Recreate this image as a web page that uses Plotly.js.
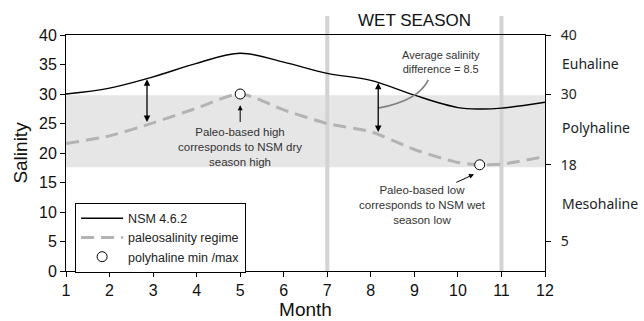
<!DOCTYPE html>
<html>
<head>
<meta charset="utf-8">
<script src="https://cdn.plot.ly/plotly-3.0.1.min.js"></script>
<style>html,body{margin:0;padding:0;background:#fff;}#chart{width:644px;height:321px;}</style>
</head>
<body>
<div id="chart"></div>
<script>
// ---- data ----
var nsmMonths   = [1, 2, 3, 4, 5, 6, 7, 8, 9, 10, 10.5, 11, 12];
var nsmValues   = [30.0, 31.0, 32.9, 35.2, 36.9, 35.4, 33.5, 32.3, 29.8, 27.7, 27.45, 27.6, 28.6];
var paleoMonths = [1, 2, 3, 4, 5, 6, 7, 8, 9, 10, 10.5, 11, 12];
var paleoValues = [21.6, 22.9, 25.1, 27.6, 30.0, 27.3, 25.0, 23.6, 20.6, 18.4, 18.0, 18.1, 19.4];
var extremeMonths = [5, 10.5];
var extremeValues = [30, 18];
var regimeBand = [17.6, 29.8];
var wetSeason = [7, 11];
var xTicks = [1, 2, 3, 4, 5, 6, 7, 8, 9, 10, 11, 12];
var rightTicks = [5, 18, 30, 40];
var zoneNames = ['Euhaline', 'Polyhaline', 'Mesohaline'];
var zoneCenters = [35.2, 24.4, 11.5];
var diffMonths = [2.86, 8.17];
var diffTops = [32.5, 31.9];
var diffBottoms = [25.0, 23.3];

var FONT = 'Liberation Sans, Arial, sans-serif';

var traces = [
  {x: nsmMonths, y: nsmValues, mode: 'lines', name: 'NSM 4.6.2',
   line: {color: '#000', width: 1.4, shape: 'spline', smoothing: 1}, hoverinfo: 'skip'},
  {x: paleoMonths, y: paleoValues, mode: 'lines', name: 'paleosalinity regime',
   line: {color: '#b3b3b3', width: 3, dash: '13px,7px', shape: 'spline', smoothing: 0.7}, hoverinfo: 'skip'},
  {x: extremeMonths, y: extremeValues, mode: 'markers', name: 'polyhaline min /max',
   marker: {symbol: 'circle', size: 10, color: '#fff', line: {color: '#000', width: 1}}, hoverinfo: 'skip'},
  {x: [null], y: [null], yaxis: 'y2', showlegend: false, hoverinfo: 'skip', mode: 'lines'}
];

var shapes = [
  {type: 'rect', xref: 'paper', yref: 'y', x0: 0, x1: 1, y0: regimeBand[0], y1: regimeBand[1],
   fillcolor: '#e6e6e6', line: {width: 0}, layer: 'below'}
];
wetSeason.forEach(function (m) {
  shapes.push({type: 'line', xref: 'x', yref: 'paper', x0: m, x1: m, y0: 0, y1: 1.08,
    line: {color: '#d3d3d3', width: 4}, layer: 'below'});
});
shapes.push({type: 'path', xref: 'x', yref: 'y',
  path: 'M ' + diffMonths[1] + ',27.6 Q 9.1,28.9 9.32,32.4',
  line: {color: '#808080', width: 1.6}});

var annotations = [];
diffMonths.forEach(function (m, i) {
  annotations.push({x: m, y: diffTops[i], ax: m, ay: diffBottoms[i], axref: 'x', ayref: 'y',
    xref: 'x', yref: 'y', text: '', showarrow: true, arrowhead: 2, arrowside: 'end+start',
    arrowsize: 1, arrowwidth: 1.3, arrowcolor: '#000', standoff: 0, startstandoff: 0});
});
annotations.push({x: 5, y: 28.1, ax: 5, ay: 25.0, axref: 'x', ayref: 'y', xref: 'x', yref: 'y',
  text: '', showarrow: true, arrowhead: 2, arrowsize: 1, arrowwidth: 1, arrowcolor: '#000', standoff: 0});
annotations.push({x: 10.37, y: 16.4, ax: 9.93, ay: 14.9, axref: 'x', ayref: 'y', xref: 'x', yref: 'y',
  text: '', showarrow: true, arrowhead: 2, arrowsize: 1, arrowwidth: 1, arrowcolor: '#000', standoff: 0});
annotations.push({x: 5, y: 21, xref: 'x', yref: 'y', showarrow: false, yanchor: 'middle',
  text: 'Paleo-based high<br>corresponds to NSM dry<br>season high',
  font: {family: FONT, size: 11.5, color: '#333'}});
annotations.push({x: 9.18, y: 11.2, xref: 'x', yref: 'y', showarrow: false, yanchor: 'middle',
  text: 'Paleo-based low<br>corresponds to NSM wet<br>season low',
  font: {family: FONT, size: 11.5, color: '#333'}});
annotations.push({x: 9.62, y: 35.4, xref: 'x', yref: 'y', showarrow: false, yanchor: 'middle',
  text: 'Average salinity<br>difference = 8.5',
  font: {family: FONT, size: 11, color: '#333'}});
annotations.push({x: (wetSeason[0] + wetSeason[1]) / 2, y: 1.06, xref: 'x', yref: 'paper',
  showarrow: false, yanchor: 'middle', text: 'WET SEASON',
  font: {family: FONT, size: 17, color: '#111'}});
zoneNames.forEach(function (n, i) {
  annotations.push({x: 1, y: zoneCenters[i], xref: 'paper', yref: 'y2', xanchor: 'left',
    xshift: 15, showarrow: false, text: n, font: {family: 'Noto Sans, Open Sans, sans-serif', size: 14, color: '#222'}});
});

var layout = {
  width: 644, height: 321,
  margin: {l: 66, r: 99, t: 35, b: 50},
  paper_bgcolor: '#fff', plot_bgcolor: 'rgba(0,0,0,0)',
  font: {family: FONT, color: '#111'},
  showlegend: true,
  legend: {x: 0.019, y: 0.29, xanchor: 'left', yanchor: 'top', bgcolor: '#fff',
    bordercolor: '#000', borderwidth: 1, font: {family: FONT, size: 12.5, color: '#222'},
    itemwidth: 42, tracegroupgap: 0},
  xaxis: {range: [1, 12], tickvals: xTicks, ticks: 'outside', ticklen: 5, tickcolor: '#000',
    showline: true, linecolor: '#000', linewidth: 1, mirror: true, showgrid: false, zeroline: false,
    tickfont: {family: FONT, size: 16, color: '#111'},
    title: {text: 'Month', font: {family: FONT, size: 19, color: '#111'}, standoff: 3}},
  yaxis: {range: [0, 40], dtick: 5, ticks: 'outside', ticklen: 5, tickcolor: '#000',
    showline: true, linecolor: '#000', linewidth: 1, showgrid: false, zeroline: false,
    tickfont: {family: FONT, size: 16, color: '#111'},
    title: {text: 'Salinity', font: {family: FONT, size: 19, color: '#111'}, standoff: 6}},
  yaxis2: {range: [0, 40], overlaying: 'y', side: 'right', tickvals: rightTicks,
    ticks: 'outside', ticklen: 5, tickcolor: '#000', showline: true, linecolor: '#000', linewidth: 1,
    showgrid: false, zeroline: false, ticklabelstandoff: 7,
    tickfont: {family: 'Noto Sans, Open Sans, sans-serif', size: 14, color: '#222'}},
  shapes: shapes,
  annotations: annotations
};

Plotly.newPlot('chart', traces, layout, {displayModeBar: false, staticPlot: true});
</script>
</body>
</html>
